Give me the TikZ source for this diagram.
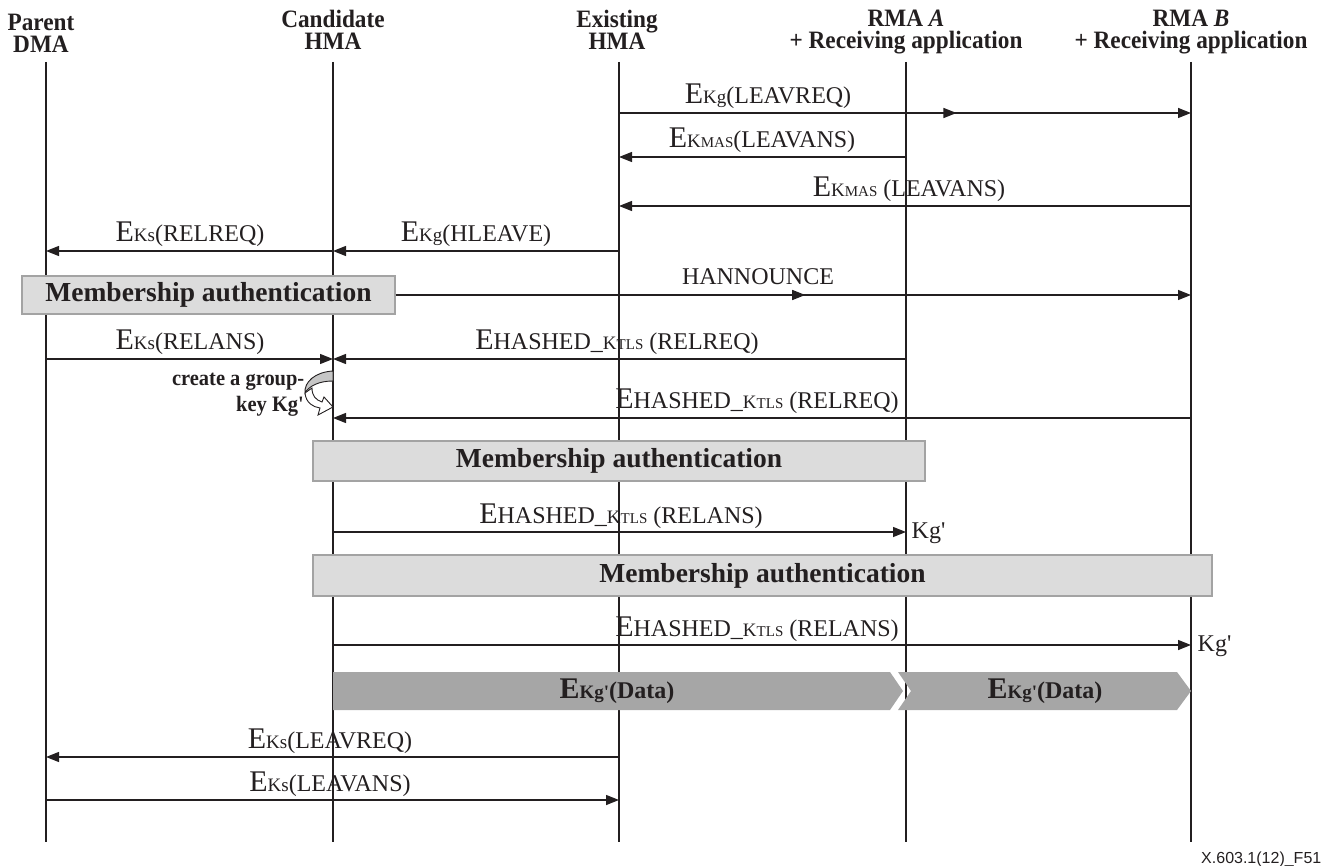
\documentclass[tikz,border=0pt]{standalone}
\usepackage{fontspec}
\setmainfont{Liberation Serif}
\newfontfamily\hdrfont[FakeStretch=0.93]{Liberation Serif}
\newfontfamily\figfont{Liberation Sans}
\usetikzlibrary{arrows.meta, decorations.markings}
\definecolor{ink}{HTML}{231F20}
\definecolor{boxfill}{HTML}{DCDCDC}
\definecolor{boxline}{HTML}{A3A3A3}
\definecolor{datafill}{HTML}{A6A6A6}
\newcommand{\bigE}{{\fontsize{30}{30}\selectfont E}}
\newcommand{\kk}[1]{{\fontsize{19}{19}\selectfont #1}}
\newcommand{\ks}[1]{{\fontsize{15}{15}\selectfont #1}}
\newcommand{\pr}{\textquotesingle}

\begin{document}
\begin{tikzpicture}[x=1pt, y=-1pt, line width=1.4pt, color=ink,
  every node/.style={font=\fontsize{24}{26}\selectfont, inner sep=0pt},
  actor/.style={font=\hdrfont\bfseries\fontsize{25}{22.5}\selectfont, align=center, anchor=north},
  lbl/.style={anchor=base},
  msg/.style={-{Triangle[length=13pt,width=10pt]}},
  midarr/.style={postaction={decorate}, decoration={markings, mark=at position #1 with {\arrow{Triangle[length=13pt,width=10pt]}}}},
  authbox/.style={draw=boxline, fill=boxfill, line width=1.2pt},
  authtxt/.style={font=\bfseries\fontsize{27.5}{27.5}\selectfont},
  datatxt/.style={font=\bfseries\fontsize{24}{24}\selectfont}]
  \useasboundingbox (0,0) rectangle (1333,866);

  \node[actor] (dma) at (41,13) {Parent\\DMA};
  \node[actor] (cand) at (333,9) {Candidate\\HMA};
  \node[actor] (exist) at (617,9) {Existing\\HMA};
  \node[actor] (rmaa) at (906,9) {RMA \textit{A}\\+ Receiving application};
  \node[actor] (rmab) at (1191,9) {RMA \textit{B}\\+ Receiving application};

  \coordinate (lDMA) at (46,62);
  \coordinate (lCA) at (333,62);
  \coordinate (lEX) at (619,62);
  \coordinate (lRA) at (906,62);
  \coordinate (lRB) at (1191,62);
  \foreach \l in {lDMA,lCA,lEX,lRA,lRB}
    \draw (\l) -- (\l |- 0,842);

  \draw[msg, midarr=0.59] (lEX |- 0,113) -- (lRB |- 0,113);
  \node[lbl] (kgreq) at (768,104) {\bigE\kk{Kg}(LEAVREQ)};
  \draw[msg] (lRA |- 0,157) -- (lEX |- 0,157);
  \node[lbl] (masa) at (762,148) {\bigE\kk{K}\ks{MAS}(LEAVANS)};
  \draw[msg] (lRB |- 0,206) -- (lEX |- 0,206);
  \node[lbl] (masb) at (909,197) {\bigE\kk{K}\ks{MAS} (LEAVANS)};

  \draw[msg] (lCA |- 0,251) -- (lDMA |- 0,251);
  \node[lbl] (ksrel) at (190,242) {\bigE\kk{Ks}(RELREQ)};
  \draw[msg] (lEX |- 0,251) -- (lCA |- 0,251);
  \node[lbl] (hleave) at (476,242) {\bigE\kk{Kg}(HLEAVE)};

  \node[authbox, minimum width=373pt, minimum height=38pt] (auth1) at (208.5,295) {};
  \node[authtxt] (auth1t) at (auth1) {Membership authentication};
  \draw[msg, midarr=0.515] (auth1.east) -- (lRB |- auth1.east);
  \node[lbl] (hann) at (758,285) {HANNOUNCE};

  \draw[msg] (lDMA |- 0,359) -- (lCA |- 0,359);
  \node[lbl] (ksans) at (190,350) {\bigE\kk{Ks}(RELANS)};
  \draw[msg] (lRA |- 0,359) -- (lCA |- 0,359);
  \node[lbl] (hrela) at (617,350) {\bigE HASHED\_\kk{K}\ks{TLS} (RELREQ)};

  \node[font=\hdrfont\bfseries\fontsize{22}{26}\selectfont, align=right, anchor=north east] (newkey) at (305,372) {create a group-\\key Kg\pr};
  \filldraw[fill=gray!45, line width=0.9pt] (333,371) .. controls (315,372) and (304,382) .. (305,393)
    .. controls (309,386) and (319,381) .. (333,381) -- cycle;
  \filldraw[fill=white, line width=0.9pt] (305,393) .. controls (306,403) and (313,407) .. (320,408)
    -- (318,415) -- (333,407) -- (324,397) -- (322,402) .. controls (316,400) and (312,396) .. (312,388) -- cycle;

  \draw[msg] (lRB |- 0,418) -- (lCA |- 0,418);
  \node[lbl] (hrelb) at (757,409) {\bigE HASHED\_\kk{K}\ks{TLS} (RELREQ)};

  \node[authbox, minimum width=612pt, minimum height=40pt] (auth2) at (619,461) {};
  \node[authtxt] (auth2t) at (auth2) {Membership authentication};

  \draw[msg] (lCA |- 0,532) -- (lRA |- 0,532);
  \node[lbl] (hansa) at (621,523) {\bigE HASHED\_\kk{K}\ks{TLS} (RELANS)};
  \node[anchor=west] (kga) at (911,533) {Kg\pr};

  \node[authbox, minimum width=899pt, minimum height=41pt] (auth3) at (762.5,575.5) {};
  \node[authtxt] (auth3t) at (auth3) {Membership authentication};

  \draw[msg] (lCA |- 0,645) -- (lRB |- 0,645);
  \node[lbl] (hansb) at (757,636) {\bigE HASHED\_\kk{K}\ks{TLS} (RELANS)};
  \node[anchor=west] (kgb) at (1197,646) {Kg\pr};

  \fill[datafill] (333,672) -- (890,672) -- (903,691) -- (890,710) -- (333,710) -- cycle;
  \fill[datafill] (898,672) -- (1177,672) -- (1191,691) -- (1177,710) -- (898,710) -- (911,691) -- cycle;
  \node[datatxt] (dataa) at (617,691) {\bigE\kk{Kg\pr}(Data)};
  \node[datatxt] (datab) at (1045,691) {\bigE\kk{Kg\pr}(Data)};

  \draw[msg] (lEX |- 0,757) -- (lDMA |- 0,757);
  \node[lbl] (ksleq) at (330,748) {\bigE\kk{Ks}(LEAVREQ)};
  \draw[msg] (lDMA |- 0,800) -- (lEX |- 0,800);
  \node[lbl] (kslans) at (330,791) {\bigE\kk{Ks}(LEAVANS)};

  \node[font=\figfont\fontsize{16}{16}\selectfont, anchor=base east] (figid) at (1322,863) {X.603.1(12)\_F51};
\end{tikzpicture}
\end{document}
